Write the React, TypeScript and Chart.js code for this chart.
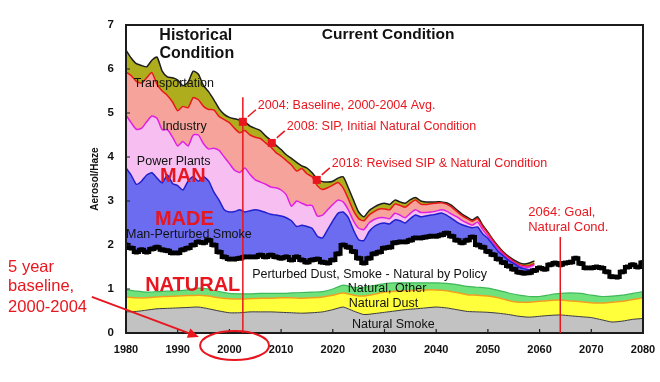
import React, { useEffect, useRef } from "react";
import { Chart, registerables } from "chart.js";
Chart.register(...registerables);

const FONT = '"Liberation Sans", Arial, Helvetica, sans-serif';

// ---- Data (top boundary of each layer, Aerosol/Haze) ----
const MAN_START = 1980; // annual values
const NAT_START = 1980; // values every 2 years
const NAT_STEP = 2;

const NATURAL_SMOKE = [
  0.48, 0.49, 0.52, 0.55, 0.56, 0.57, 0.58, 0.59, 0.55, 0.5,
  0.46, 0.46, 0.48, 0.48, 0.48, 0.47, 0.46, 0.45, 0.46, 0.48,
  0.53, 0.59, 0.5, 0.42, 0.44, 0.47, 0.5, 0.53, 0.55, 0.57,
  0.59, 0.57, 0.53, 0.49, 0.48, 0.47, 0.45, 0.42, 0.38, 0.36,
  0.38, 0.4, 0.41, 0.39, 0.37, 0.35, 0.3, 0.25, 0.27, 0.31,
  0.33,
];
const NATURAL_DUST = [
  0.82, 0.8, 0.8, 0.82, 0.83, 0.84, 0.85, 0.86, 0.84, 0.8,
  0.78, 0.77, 0.78, 0.79, 0.79, 0.8, 0.8, 0.79, 0.8, 0.82,
  0.86, 0.91, 0.86, 0.84, 0.88, 0.93, 0.95, 0.96, 0.97, 0.98,
  0.98, 0.96, 0.92, 0.87, 0.86, 0.84, 0.8, 0.74, 0.7, 0.7,
  0.72, 0.74, 0.75, 0.73, 0.71, 0.69, 0.68, 0.7, 0.72, 0.76,
  0.8,
];
const NATURAL_OTHER = [
  0.98, 0.95, 0.93, 0.94, 0.95, 0.96, 0.98, 1.02, 1.0, 0.94,
  0.9, 0.89, 0.89, 0.9, 0.9, 0.9, 0.91, 0.92, 0.93, 0.94,
  1.0, 1.09, 1.04, 1.04, 1.08, 1.12, 1.14, 1.14, 1.14, 1.14,
  1.14, 1.13, 1.1, 1.06, 1.04, 1.02, 0.97, 0.91, 0.86, 0.83,
  0.83, 0.87, 0.9, 0.91, 0.9, 0.86, 0.83, 0.84, 0.86, 0.9,
  0.94,
];
const NATURAL_BY_POLICY = [
  2.0, 1.93, 1.84, 1.89, 1.84, 1.91, 1.95, 1.89, 1.87, 1.82,
  1.82, 1.89, 1.93, 2.0, 2.07, 2.05, 2.11, 2.0, 1.84, 1.73,
  1.68, 1.68, 1.7, 1.73, 1.73, 1.73, 1.77, 1.73, 1.77, 1.73,
  1.7, 1.73, 1.66, 1.73, 1.66, 1.61, 1.66, 1.68, 1.61, 1.59,
  1.66, 1.8, 2.0, 1.95, 1.85, 1.7, 1.59, 1.7, 1.8, 1.84,
  1.93, 1.95, 2.05, 2.07, 2.07, 2.11, 2.16, 2.16, 2.18, 2.2,
  2.2, 2.23, 2.27, 2.2, 2.11, 2.05, 2.11, 2.18, 2.0, 1.95,
  1.85, 1.78, 1.68, 1.6, 1.52, 1.45, 1.38, 1.36, 1.37, 1.42,
  1.48, 1.45, 1.55, 1.59, 1.55, 1.59, 1.61, 1.7, 1.58, 1.48,
  1.48, 1.5, 1.48, 1.39, 1.28, 1.27, 1.39, 1.5, 1.55, 1.5, 1.6,
];
const MAN_PERTURBED_SMOKE = [
  3.75, 3.59, 3.38, 3.45, 3.59, 3.64, 3.52, 3.41, 3.59, 3.4,
  3.35, 3.25, 3.45, 3.55, 3.45, 3.55, 3.45, 3.2, 3.02, 2.8,
  2.75, 2.76, 2.8, 2.75, 2.78, 2.8, 2.78, 2.74, 2.7, 2.68,
  2.66, 2.62, 2.55, 2.42, 2.45, 2.42, 2.38, 2.2, 2.16, 2.35,
  2.55, 2.72, 2.75, 2.62, 2.34, 2.12, 2.1, 2.3, 2.42, 2.48,
  2.5, 2.48, 2.57, 2.55, 2.5, 2.6, 2.68, 2.64, 2.66, 2.68,
  2.7, 2.73, 2.68, 2.6, 2.52, 2.46, 2.42, 2.39, 2.41, 2.25,
  2.15, 2.0, 1.85, 1.75, 1.65, 1.58, 1.5, 1.46, 1.44, 1.45,
];
const POWER_PLANTS = [
  4.95, 4.78, 4.63, 4.65, 4.8, 4.93, 4.88, 4.62, 4.62, 4.45,
  4.25, 4.35, 4.25, 4.5, 4.5, 4.3, 4.18, 4.2, 4.15, 4.0,
  3.85, 3.7, 3.65, 3.75, 3.6, 3.48, 3.43, 3.38, 3.32, 3.3,
  3.25, 3.14, 2.88, 3.0, 2.95, 2.9, 2.9, 2.66, 2.68, 2.8,
  2.92, 3.02, 2.98, 2.8, 2.55, 2.38, 2.35, 2.5, 2.58, 2.62,
  2.62, 2.6, 2.72, 2.68, 2.62, 2.72, 2.8, 2.74, 2.74, 2.75,
  2.77, 2.8, 2.77, 2.7, 2.64, 2.56, 2.5, 2.45, 2.52, 2.35,
  2.2, 2.05, 1.9, 1.78, 1.68, 1.6, 1.53, 1.5, 1.5, 1.55,
];
const INDUSTRY = [
  5.93, 5.85, 5.72, 5.68, 5.8, 5.92, 5.65, 5.5, 5.4, 5.25,
  5.05, 5.15, 5.12, 5.35, 5.3, 5.15, 5.08, 5.07, 4.92, 4.85,
  4.78, 4.65, 4.55, 4.6, 4.5, 4.45, 4.42, 4.32, 4.23, 4.1,
  4.02, 3.92, 3.82, 3.68, 3.74, 3.62, 3.55, 3.35, 3.26, 3.3,
  3.36, 3.42, 3.3, 3.05, 2.78, 2.6, 2.55, 2.68, 2.76, 2.82,
  2.82, 2.8, 2.93, 2.9, 2.86, 2.95, 3.02, 2.93, 2.92, 2.94,
  2.95, 2.96, 2.93, 2.86, 2.76, 2.67, 2.6, 2.54, 2.6, 2.42,
  2.27, 2.1, 1.95, 1.82, 1.72, 1.63, 1.56, 1.53, 1.53, 1.58,
];
const TRANSPORTATION = [
  6.43, 6.25, 6.12, 6.08, 6.05, 6.2, 6.27, 5.95, 5.82, 5.8,
  5.75, 5.62, 5.7, 5.95, 5.88, 5.62, 5.48, 5.3, 5.1, 4.97,
  4.9, 4.87, 4.84, 4.8, 4.7, 4.65, 4.6, 4.48, 4.38, 4.27,
  4.17, 4.05, 3.97, 3.88, 3.8, 3.75, 3.64, 3.5, 3.44, 3.43,
  3.45, 3.52, 3.55, 3.3, 3.02, 2.75, 2.64, 2.78, 2.86, 2.92,
  2.95, 2.92, 3.02, 2.98, 2.95, 3.03, 3.08, 3.0, 2.98, 2.98,
  2.98, 2.98, 2.96, 2.9, 2.8, 2.7, 2.63, 2.57, 2.64, 2.45,
  2.29, 2.12, 1.97, 1.84, 1.74, 1.66, 1.6, 1.57, 1.59, 1.64,
];

// milestone markers [year, value]
const MILESTONES = [
  [2002.6, 4.8],
  [2008.2, 4.32],
  [2016.9, 3.48],
];
const MILESTONE_LABELS = [
  "2004: Baseline, 2000-2004 Avg.",
  "2008: SIP, Initial Natural Condition",
  "2018: Revised SIP & Natural Condition",
];
const VLINES = [
  [2002.6, 5.36],
  [2064, 2.18],
];

const series = (start: number, step: number, vals: number[]) =>
  vals.map((v, i) => ({ x: start + i * step, y: v }));

const overlay = {
  id: "overlay",
  afterDatasetsDraw(chart: any) {
    const { ctx, chartArea: ca, scales } = chart;
    const xs = scales.x;
    const ys = scales.y;
    const X = (v: number) => xs.getPixelForValue(v);
    const Y = (v: number) => ys.getPixelForValue(v);
    const RED = "#e8161e";
    ctx.save();

    // frame
    ctx.strokeStyle = "#1c1c1c";
    ctx.lineWidth = 2;
    ctx.strokeRect(ca.left, ca.top, ca.right - ca.left, ca.bottom - ca.top);
    // inward ticks
    ctx.lineWidth = 1.2;
    ctx.beginPath();
    xs.ticks.forEach((t: any) => {
      const px = X(t.value);
      ctx.moveTo(px, ca.bottom);
      ctx.lineTo(px, ca.bottom - 4);
    });
    ys.ticks.forEach((t: any) => {
      const py = Y(t.value);
      ctx.moveTo(ca.left, py);
      ctx.lineTo(ca.left + 4, py);
    });
    ctx.stroke();

    // red vertical lines
    ctx.strokeStyle = RED;
    ctx.lineWidth = 1.5;
    VLINES.forEach(([yr, top]) => {
      ctx.beginPath();
      ctx.moveTo(X(yr), Y(top));
      ctx.lineTo(X(yr), Y(0));
      ctx.stroke();
    });

    // milestone squares + leader lines + labels
    ctx.fillStyle = RED;
    ctx.font = `12.5px ${FONT}`;
    ctx.textBaseline = "middle";
    ctx.textAlign = "left";
    MILESTONES.forEach(([yr, v], i) => {
      const px = X(yr);
      const py = Y(v);
      ctx.fillRect(px - 4, py - 4, 8, 8);
      ctx.beginPath();
      ctx.moveTo(px + 5, py - 5);
      ctx.lineTo(px + 13, py - 12);
      ctx.stroke();
      ctx.fillText(MILESTONE_LABELS[i], px + 15, py - 16);
    });

    const text = (
      s: string,
      yr: number,
      v: number,
      font: string,
      color: string,
      align: CanvasTextAlign = "left"
    ) => {
      ctx.font = font;
      ctx.fillStyle = color;
      ctx.textAlign = align;
      ctx.textBaseline = "middle";
      ctx.fillText(s, X(yr), Y(v));
    };
    const n = `12.5px ${FONT}`;
    const bigRed = `bold 20px ${FONT}`;
    const head = `bold 16px ${FONT}`;
    text("Historical", 1993.5, 6.75, head, "#111", "center");
    text("Condition", 1993.7, 6.36, head, "#111", "center");
    text("Current Condition", 2030.7, 6.77, `bold 15.5px ${FONT}`, "#111", "center");
    text("Transportation", 1981.5, 5.68, n, "#111");
    text("Industry", 1987.0, 4.7, n, "#111");
    text("Power Plants", 1982.1, 3.89, n, "#111");
    text("MAN", 1986.6, 3.55, bigRed, RED);
    text("MADE", 1985.6, 2.57, bigRed, RED);
    text("Man-Perturbed Smoke", 1980.0, 2.23, n, "#111");
    text("NATURAL", 1983.7, 1.09, bigRed, RED);
    text("Perturbed Dust, Smoke - Natural by Policy", 2004.4, 1.32, n, "#111");
    text("Natural, Other", 2022.9, 1.0, n, "#111");
    text("Natural Dust", 2023.1, 0.66, n, "#111");
    text("Natural Smoke", 2023.7, 0.2, n, "#111");
    text("2064: Goal,", 2057.8, 2.73, `13px ${FONT}`, RED);
    text("Natural Cond.", 2057.8, 2.39, `13px ${FONT}`, RED);

    // outside callout
    const call = `16.5px ${FONT}`;
    text("5 year", 1957.2, 1.5, call, RED);
    text("baseline,", 1957.2, 1.05, call, RED);
    text("2000-2004", 1957.2, 0.57, call, RED);

    // arrow
    const ax0 = X(1973.4), ay0 = Y(0.82), ax1 = X(1994.1), ay1 = Y(-0.09);
    const ang = Math.atan2(ay1 - ay0, ax1 - ax0);
    ctx.strokeStyle = RED;
    ctx.fillStyle = RED;
    ctx.lineWidth = 2;
    ctx.beginPath();
    ctx.moveTo(ax0, ay0);
    ctx.lineTo(ax1 - 8 * Math.cos(ang), ay1 - 8 * Math.sin(ang));
    ctx.stroke();
    ctx.beginPath();
    ctx.moveTo(ax1, ay1);
    ctx.lineTo(ax1 - 11 * Math.cos(ang) + 5 * Math.sin(ang), ay1 - 11 * Math.sin(ang) - 5 * Math.cos(ang));
    ctx.lineTo(ax1 - 11 * Math.cos(ang) - 5 * Math.sin(ang), ay1 - 11 * Math.sin(ang) + 5 * Math.cos(ang));
    ctx.closePath();
    ctx.fill();

    // ellipse around 2000 label
    const ex = X(2001.0), ey = Y(-0.284);
    ctx.beginPath();
    ctx.ellipse(ex, ey, X(2007.67) - ex, Y(-0.614) - ey, 0, 0, Math.PI * 2);
    ctx.stroke();

    // y title
    ctx.save();
    ctx.translate(ca.left - 31, (ca.top + ca.bottom) / 2);
    ctx.rotate(-Math.PI / 2);
    ctx.font = `bold 10px ${FONT}`;
    ctx.fillStyle = "#111";
    ctx.textAlign = "center";
    ctx.textBaseline = "middle";
    ctx.fillText("Aerosol/Haze", 0, 0);
    ctx.restore();

    ctx.restore();
  },
};

export default function App() {
  const ref = useRef<HTMLCanvasElement | null>(null);
  useEffect(() => {
    if (!ref.current) return;
    const area = (label: string, data: any[], bg: string, line: string, lw: number, fill: any) => ({
      label,
      data,
      backgroundColor: bg,
      borderColor: line,
      borderWidth: lw,
      pointRadius: 0,
      tension: 0.2,
      fill,
    });
    const chart = new Chart(ref.current, {
      type: "line",
      data: {
        datasets: [
          area("Natural Smoke", series(NAT_START, NAT_STEP, NATURAL_SMOKE), "#c2c2c2", "#3a3a3a", 1, "origin"),
          area("Natural Dust", series(NAT_START, NAT_STEP, NATURAL_DUST), "#ffff3c", "#f0a020", 1.5, "-1"),
          area("Natural, Other", series(NAT_START, NAT_STEP, NATURAL_OTHER), "#70e27c", "#40b85a", 1.2, "-1"),
          {
            label: "Perturbed Dust, Smoke - Natural by Policy",
            data: series(MAN_START, 1, NATURAL_BY_POLICY),
            borderColor: "#000",
            backgroundColor: "#000",
            borderWidth: 4,
            stepped: "middle",
            pointStyle: "rect",
            pointRadius: 3.5,
            pointBackgroundColor: "#000",
            pointBorderWidth: 0,
            fill: false,
          },
          area("Man-Perturbed Smoke", series(MAN_START, 1, MAN_PERTURBED_SMOKE), "#6c6cf0", "#2020cc", 1.5, "-1"),
          area("Power Plants", series(MAN_START, 1, POWER_PLANTS), "#f7bff1", "#e020e0", 1.5, "-1"),
          area("Industry", series(MAN_START, 1, INDUSTRY), "#f6a39b", "#e81818", 1.5, "-1"),
          area("Transportation", series(MAN_START, 1, TRANSPORTATION), "#adad1e", "#1e1e1e", 1.5, "-1"),
        ],
      },
      options: {
        responsive: false,
        animation: false,
        layout: { padding: { top: 25, right: 17, left: 0, bottom: 0 } },
        plugins: { legend: { display: false }, tooltip: { enabled: false } },
        scales: {
          x: {
            type: "linear",
            min: 1980,
            max: 2080,
            grid: { display: false, drawTicks: false },
            border: { display: false },
            ticks: {
              stepSize: 10,
              padding: 10,
              color: "#111",
              font: { family: FONT, size: 11, weight: "bold" },
              callback: (v: any) => String(v),
              maxRotation: 0,
            },
            afterFit: (s: any) => {
              s.height = 49;
              s.paddingLeft = 0;
              s.paddingRight = 0;
            },
          },
          y: {
            min: 0,
            max: 7,
            grid: { display: false, drawTicks: false },
            border: { display: false },
            ticks: {
              stepSize: 1,
              padding: 12,
              color: "#111",
              font: { family: FONT, size: 11.5, weight: "bold" },
            },
            afterFit: (s: any) => {
              s.width = 126;
              s.paddingTop = 0;
              s.paddingBottom = 0;
            },
          },
        },
      } as any,
      plugins: [overlay],
    });
    return () => chart.destroy();
  }, []);
  return (
    <div style={{ position: "absolute", left: 0, top: 0, width: 660, height: 382, background: "#fff" }}>
      <canvas ref={ref} width={660} height={382} style={{ display: "block" }} />
    </div>
  );
}
